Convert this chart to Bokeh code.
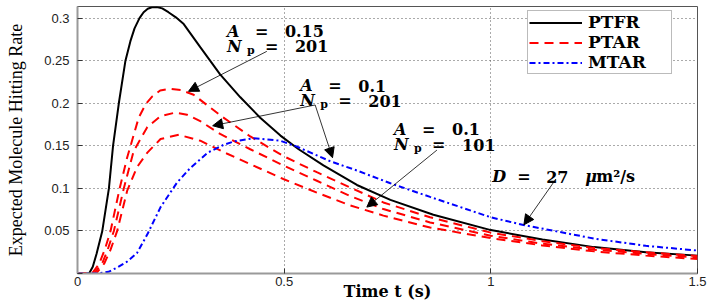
from bokeh.plotting import figure
from bokeh.models import (Range1d, FixedTicker, CustomJSTickFormatter, Legend, LegendItem,
                          Arrow, NormalHead)
from bokeh.core.properties import value
from bokeh.embed import file_html
from bokeh.resources import INLINE

# ---------------- data ----------------
t_ptfr = [0, 0.028, 0.037, 0.046, 0.060, 0.076, 0.086, 0.100, 0.116, 0.128, 0.138, 0.150, 0.160,
          0.170, 0.180, 0.192, 0.205, 0.220, 0.238, 0.257, 0.297, 0.345, 0.394, 0.442, 0.491,
          0.535, 0.595, 0.676, 0.757, 0.861, 1.0, 1.125, 1.25, 1.375, 1.5]
ptfr = [0, 0, 0.008, 0.023, 0.05, 0.10, 0.15, 0.20, 0.25, 0.273, 0.288, 0.300, 0.307,
        0.311, 0.3128, 0.313, 0.3115, 0.307, 0.301, 0.293, 0.266, 0.234, 0.207, 0.183, 0.162,
        0.146, 0.127, 0.104, 0.0865, 0.069, 0.051, 0.040, 0.031, 0.025, 0.021]

t_ptar_a015_n201 = [0, 0.035, 0.052, 0.066, 0.080, 0.102, 0.120, 0.148, 0.165, 0.181, 0.200, 0.224,
                    0.250, 0.281, 0.345, 0.418, 0.498, 0.579, 0.66, 0.74, 0.853, 1.0, 1.125,
                    1.25, 1.375, 1.5]
ptar_a015_n201 = [0, 0, 0.011, 0.028, 0.050, 0.100, 0.136, 0.183, 0.199, 0.208, 0.215, 0.217,
                  0.2155, 0.210, 0.186, 0.161, 0.138, 0.119, 0.101, 0.0835, 0.066, 0.048, 0.038,
                  0.030, 0.025, 0.0205]

t_ptar_a01_n201 = [0, 0.040, 0.060, 0.073, 0.088, 0.112, 0.136, 0.169, 0.201, 0.236, 0.265, 0.297,
                   0.345, 0.418, 0.498, 0.579, 0.66, 0.74, 0.853, 1.0, 1.125, 1.25, 1.375, 1.5]
ptar_a01_n201 = [0, 0, 0.012, 0.028, 0.050, 0.100, 0.144, 0.172, 0.185, 0.189, 0.1865, 0.179,
                 0.164, 0.146, 0.127, 0.109, 0.091, 0.0757, 0.060, 0.0443, 0.035, 0.028, 0.023, 0.0188]

t_ptar_a01_n101 = [0, 0.045, 0.065, 0.080, 0.096, 0.120, 0.144, 0.169, 0.201, 0.245, 0.297,
                   0.361, 0.418, 0.498, 0.579, 0.66, 0.74, 0.853, 1.0, 1.125, 1.25, 1.375, 1.5]
ptar_a01_n101 = [0, 0, 0.012, 0.028, 0.050, 0.097, 0.125, 0.142, 0.158, 0.163, 0.156,
                 0.141, 0.1285, 0.111, 0.095, 0.080, 0.068, 0.054, 0.0416, 0.033, 0.026, 0.021, 0.017]

t_mtar = [0, 0.048, 0.075, 0.096, 0.120, 0.144, 0.169, 0.201, 0.241, 0.273, 0.315, 0.353,
          0.377, 0.426, 0.49, 0.531, 0.611, 0.676, 0.757, 0.853, 1.0, 1.079, 1.25, 1.375, 1.5]
mtar = [0, 0, 0.002, 0.007, 0.014, 0.024, 0.046, 0.078, 0.107, 0.124, 0.142, 0.151,
        0.155, 0.159, 0.156, 0.149, 0.132, 0.121, 0.106, 0.090, 0.066, 0.057, 0.041, 0.0325, 0.027]

x_ticks = [0, 0.5, 1, 1.5]
y_ticks = [0, 0.05, 0.1, 0.15, 0.2, 0.25, 0.3]
series_names = ["PTFR", "PTAR", "MTAR"]

# ---------------- figure ----------------
SERIF = "DejaVu Serif"
p = figure(width=714, height=305, output_backend="svg", toolbar_location=None,
           x_range=Range1d(0, 1.5), y_range=Range1d(0, 0.3137),
           min_border_left=77, min_border_right=17, min_border_top=6, min_border_bottom=32,
           background_fill_color="white", border_fill_color="white")

p.outline_line_color = "#555555"
p.outline_line_width = 1

for ax in (p.xaxis[0], p.yaxis[0]):
    ax.axis_line_color = "#9a9a9a"
    ax.axis_line_width = 2
    ax.major_tick_in = 5
    ax.major_tick_out = 0
    ax.major_tick_line_color = "#333333"
    ax.minor_tick_line_color = None
    ax.major_label_text_font = "Liberation Sans"
    ax.major_label_text_font_size = "13px"
    ax.major_label_text_color = "#222222"

p.xaxis.ticker = FixedTicker(ticks=x_ticks)
p.yaxis.ticker = FixedTicker(ticks=y_ticks)
p.xaxis.formatter = CustomJSTickFormatter(code="return String(Number(tick.toFixed(2)));")
p.yaxis.formatter = CustomJSTickFormatter(code="return tick == 0 ? '' : String(Number(tick.toFixed(2)));")
p.xaxis.major_label_standoff = 3
p.yaxis.major_label_standoff = 8

p.xaxis.axis_label = "Time t (s)"
p.xaxis.axis_label_text_font = SERIF
p.xaxis.axis_label_text_font_style = "bold"
p.xaxis.axis_label_text_font_size = "16px"
p.xaxis.axis_label_text_color = "black"
p.xaxis.axis_label_standoff = -7

p.yaxis.axis_label = "Expected Molecule Hitting Rate"
p.yaxis.axis_label_text_font = "Liberation Serif"
p.yaxis.axis_label_text_font_style = "normal"
p.yaxis.axis_label_text_font_size = "18px"
p.yaxis.axis_label_text_color = "black"
p.yaxis.axis_label_standoff = 15

p.xgrid.grid_line_color = "#555555"
p.ygrid.grid_line_color = "#555555"
p.xgrid.grid_line_dash = "1 3"
p.ygrid.grid_line_dash = "1 3"
p.xgrid.grid_line_width = 1
p.ygrid.grid_line_width = 1

# ---------------- curves ----------------
r_ptfr = p.line(t_ptfr, ptfr, line_color="black", line_width=2)
r_p1 = p.line(t_ptar_a015_n201, ptar_a015_n201, line_color="#ff0000", line_width=2, line_dash="9 6")
r_p2 = p.line(t_ptar_a01_n201, ptar_a01_n201, line_color="#ff0000", line_width=2, line_dash="9 6")
r_p3 = p.line(t_ptar_a01_n101, ptar_a01_n101, line_color="#ff0000", line_width=2, line_dash="9 6")
r_mtar = p.line(t_mtar, mtar, line_color="#0000ff", line_width=2, line_dash="6 3 2 3")

# ---------------- annotations ----------------
def arrow(xs, ys, xe, ye):
    p.add_layout(Arrow(x_start=xs, y_start=ys, x_end=xe, y_end=ye, line_width=0.8,
                       line_color="black",
                       end=NormalHead(size=10, fill_color="black", line_color="black")))

arrow(0.458, 0.261, 0.2686, 0.214)
arrow(0.575, 0.198, 0.327, 0.1736)
arrow(0.575, 0.198, 0.617, 0.136)
arrow(0.8696, 0.145, 0.700, 0.078)
arrow(1.1575, 0.111, 1.080, 0.0572)

def piece(x, y, txt, dx, size=16, style="bold", dy=0):
    p.text(x=[x], y=[y], text=[txt], x_offset=dx, y_offset=dy,
           text_font=value(SERIF), text_font_style=style, text_font_size=value(f"{size}px"),
           text_color="black", text_align="left", text_baseline="alphabetic")

def a_label(x, y1, y2, a_txt, n_txt):
    piece(x, y1, "A", 0, style="bold italic")
    piece(x, y1, "=", 28)
    piece(x, y1, a_txt, 58)
    piece(x, y2, "N", 0, style="bold italic")
    piece(x, y2, "p", 20, size=11, dy=4)
    piece(x, y2, "=", 38)
    piece(x, y2, n_txt, 68)

a_label(0.3615, 0.2848, 0.2670, "0.15", "201")
a_label(0.539, 0.2206, 0.2029, "0.1", "201")
a_label(0.766, 0.1697, 0.1512, "0.1", "101")

piece(1.0034, 0.1136, "D", 0, style="bold italic")
piece(1.0034, 0.1136, "=", 25)
piece(1.0034, 0.1136, "27", 54)
piece(1.0034, 0.1136, "\u03bc", 93, style="bold italic")
piece(1.0034, 0.1136, "m\u00b2/s", 104)

# ---------------- legend ----------------
legend = Legend(items=[LegendItem(label=series_names[0], renderers=[r_ptfr]),
                       LegendItem(label=series_names[1], renderers=[r_p1]),
                       LegendItem(label=series_names[2], renderers=[r_mtar])],
                location=(450, 199))
legend.label_text_font = SERIF
legend.label_text_font_style = "bold"
legend.label_text_font_size = "17px"
legend.label_text_color = "black"
legend.label_height = 17
legend.glyph_height = 17
legend.glyph_width = 53
legend.label_width = 82
legend.label_standoff = 6
legend.spacing = 0
legend.padding = 1
legend.margin = 0
legend.border_line_color = "#777777"
legend.border_line_width = 1
legend.background_fill_color = "white"
legend.background_fill_alpha = 1
p.add_layout(legend)

open("out.html", "w").write(file_html(p, INLINE))
